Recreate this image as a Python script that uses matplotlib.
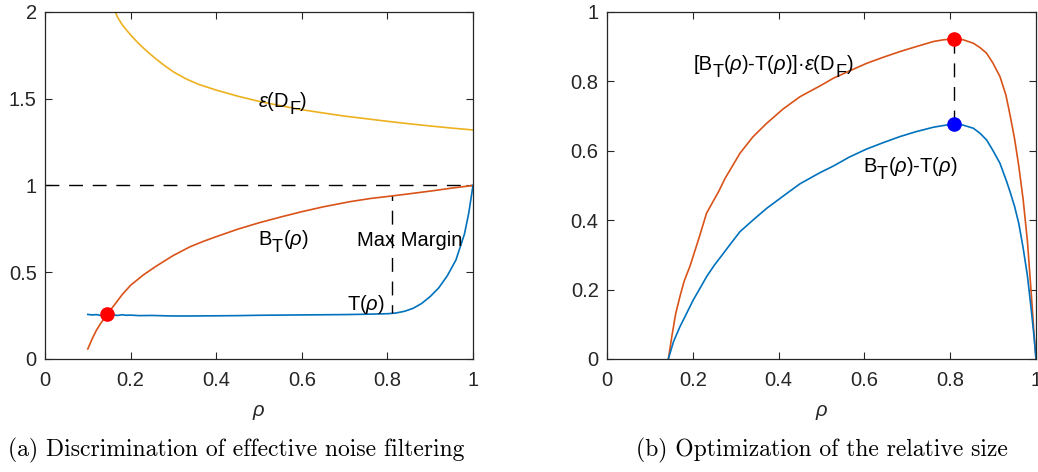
import matplotlib
matplotlib.use("Agg")
import matplotlib.pyplot as plt
import matplotlib.transforms as mtransforms

plt.rcParams['font.family'] = ['Liberation Sans', 'DejaVu Sans']
plt.rcParams['mathtext.fontset'] = 'custom'
plt.rcParams['mathtext.rm'] = 'Liberation Sans'
plt.rcParams['mathtext.it'] = 'Liberation Sans:italic'

BLUE = '#0072BD'
ORANGE = '#D95319'
YELLOW = '#EDB120'
AXC = '#262626'
FS = 14.5

# (a) left panel
eps_x = [0.164, 0.17, 0.18, 0.19, 0.2, 0.215, 0.23, 0.245, 0.26, 0.28, 0.3, 0.33, 0.36,
         0.4, 0.45, 0.5, 0.55, 0.6, 0.65, 0.7, 0.75, 0.8, 0.85, 0.9, 0.95, 1.0]
eps_y = [2.0, 1.968, 1.928, 1.897, 1.868, 1.828, 1.792, 1.759, 1.728, 1.69, 1.655, 1.614, 1.582,
         1.55, 1.515, 1.485, 1.46, 1.437, 1.418, 1.40, 1.385, 1.37, 1.356, 1.343, 1.331, 1.32]

bt_x = [0.1, 0.11, 0.12, 0.13, 0.1456, 0.16, 0.18, 0.2, 0.23, 0.261, 0.3, 0.339, 0.37,
        0.4, 0.45, 0.5, 0.55, 0.6, 0.65, 0.713, 0.76, 0.81, 0.86, 0.907, 0.95, 1.0]
bt_y = [0.058, 0.115, 0.165, 0.205, 0.259, 0.305, 0.37, 0.425, 0.485, 0.537, 0.597, 0.647, 0.678,
        0.705, 0.748, 0.785, 0.818, 0.849, 0.877, 0.907, 0.925, 0.9395, 0.955, 0.97, 0.985, 1.0]

t_x = [0.1, 0.11, 0.12, 0.13, 0.14, 0.15, 0.16, 0.17, 0.18, 0.19, 0.2, 0.22, 0.25, 0.28,
       0.3, 0.35, 0.4, 0.45, 0.5, 0.55, 0.6, 0.65, 0.7, 0.75, 0.8, 0.82, 0.84, 0.86,
       0.88, 0.9, 0.92, 0.94, 0.96, 0.98, 0.99, 1.0]
t_y = [0.257, 0.254, 0.256, 0.251, 0.255, 0.25, 0.254, 0.251, 0.255, 0.252, 0.253, 0.25,
       0.251, 0.249, 0.248, 0.248, 0.249, 0.25, 0.252, 0.253, 0.254, 0.255, 0.256, 0.258,
       0.261, 0.265, 0.275, 0.292, 0.32, 0.36, 0.41, 0.48, 0.57, 0.72, 0.84, 1.0]

cross_pt = (0.1456, 0.259)
margin_x = 0.81
margin_lo, margin_hi = 0.263, 0.9395

# (b) right panel
prod_x = [0.143, 0.151, 0.16, 0.17, 0.18, 0.193, 0.213, 0.232, 0.25, 0.26, 0.275, 0.287,
          0.31, 0.34, 0.372, 0.41, 0.45, 0.4965, 0.5275, 0.565, 0.605, 0.645, 0.683,
          0.72, 0.761, 0.785, 0.809, 0.83, 0.854, 0.87, 0.885, 0.9, 0.916, 0.93, 0.94,
          0.95, 0.96, 0.97, 0.98, 0.99, 0.995, 1.0]
prod_y = [0.0, 0.064, 0.13, 0.18, 0.225, 0.266, 0.343, 0.42, 0.46, 0.482, 0.52, 0.545,
          0.593, 0.64, 0.679, 0.72, 0.756, 0.787, 0.809, 0.83, 0.852, 0.87, 0.886,
          0.90, 0.915, 0.92, 0.922, 0.92, 0.91, 0.897, 0.881, 0.852, 0.814, 0.76, 0.70,
          0.635, 0.555, 0.46, 0.34, 0.17, 0.08, 0.0]

diff_x = [0.143, 0.155, 0.17, 0.185, 0.201, 0.215, 0.232, 0.25, 0.271, 0.29, 0.31, 0.34,
          0.372, 0.396, 0.42, 0.45, 0.4965, 0.5275, 0.565, 0.605, 0.645, 0.683, 0.72,
          0.761, 0.785, 0.809, 0.83, 0.854, 0.87, 0.885, 0.9, 0.916, 0.932, 0.94, 0.95,
          0.96, 0.97, 0.98, 0.99, 0.995, 1.0]
diff_y = [0.0, 0.05, 0.093, 0.13, 0.17, 0.2, 0.237, 0.27, 0.304, 0.335, 0.367, 0.40,
          0.434, 0.456, 0.478, 0.505, 0.537, 0.556, 0.582, 0.605, 0.624, 0.641, 0.655,
          0.668, 0.673, 0.677, 0.674, 0.665, 0.65, 0.631, 0.60, 0.564, 0.51, 0.48, 0.44,
          0.39, 0.32, 0.24, 0.13, 0.07, 0.0]

opt_x = 0.809
opt_prod, opt_diff = 0.922, 0.677


def style_axes(ax, ylim, yticks, yticklabels):
    ax.set_xlim(0, 1)
    ax.set_ylim(*ylim)
    ax.set_xticks([0, 0.2, 0.4, 0.6, 0.8, 1])
    ax.set_xticklabels(['0', '0.2', '0.4', '0.6', '0.8', '1'])
    ax.set_yticks(yticks)
    ax.set_yticklabels(yticklabels)
    ax.tick_params(direction='in', top=True, right=True, length=5, width=0.8,
                   colors=AXC, labelsize=FS)
    ax.tick_params(axis='x', pad=9)
    ax.tick_params(axis='y', pad=6)
    for s in ax.spines.values():
        s.set_color(AXC)
        s.set_linewidth(0.9)
    ax.set_xlabel(r'$\rho$', fontsize=FS, color=AXC, labelpad=9)


def rich_text(ax, x, y, parts):
    # parts: (text, is_subscript); subscripts drawn almost full size, dropped below baseline
    renderer = ax.figure.canvas.get_renderer()
    base = ax.transData
    for s, sub in parts:
        tr = mtransforms.offset_copy(base, fig=ax.figure, y=-7 if sub else 0, units='dots')
        txt = ax.text(x, y, s, transform=tr, fontsize=FS * (0.9 if sub else 1),
                      va='baseline', ha='left', color='k')
        w = txt.get_window_extent(renderer).width
        base = mtransforms.offset_copy(base, fig=ax.figure, x=w, units='dots')


fig = plt.figure(figsize=(10.38, 4.72), dpi=100)
ax1 = fig.add_axes([45 / 1038, 113 / 472, 428 / 1038, 347 / 472])
ax2 = fig.add_axes([607 / 1038, 113 / 472, 429 / 1038, 347 / 472])

dash = (0, (10, 7))

ax1.plot(eps_x, eps_y, color=YELLOW, lw=1.2)
ax1.plot([0, 1], [1, 1], color='k', lw=1.0, ls=dash)
ax1.plot(bt_x, bt_y, color=ORANGE, lw=1.2)
ax1.plot(t_x, t_y, color=BLUE, lw=1.2)
ax1.plot([margin_x, margin_x], [margin_lo, margin_hi], color='k', lw=1.0, ls=(4, (10, 7)))
ax1.plot(*cross_pt, 'o', color='red', markersize=9.5)
style_axes(ax1, (0, 2), [0, 0.5, 1, 1.5, 2], ['0', '0.5', '1', '1.5', '2'])
rich_text(ax1, 0.498, 1.454, [(r'$\epsilon$(D', False), ('F', True), (')', False)])
rich_text(ax1, 0.498, 0.657, [('B', False), ('T', True), (r'($\rho$)', False)])
ax1.text(0.73, 0.651, 'Max Margin', fontsize=FS, va='baseline')
rich_text(ax1, 0.705, 0.282, [(r'T($\rho$)', False)])

ax2.plot(prod_x, prod_y, color=ORANGE, lw=1.2)
ax2.plot(diff_x, diff_y, color=BLUE, lw=1.2)
ax2.plot([opt_x, opt_x], [opt_diff, opt_prod], color='k', lw=1.0, ls=dash)
ax2.plot(opt_x, opt_prod, 'o', color='red', markersize=9.5)
ax2.plot(opt_x, opt_diff, 'o', color='blue', markersize=9.5)
style_axes(ax2, (0, 1), [0, 0.2, 0.4, 0.6, 0.8, 1], ['0', '0.2', '0.4', '0.6', '0.8', '1'])
rich_text(ax2, 0.201, 0.833, [('[B', False), ('T', True),
                              (r'($\rho$)-T($\rho$)]·$\epsilon$(D', False), ('F', True), (')', False)])
rich_text(ax2, 0.598, 0.54, [('B', False), ('T', True), (r'($\rho$)-T($\rho$)', False)])

fig.text(236 / 1038, 22 / 472, '(a) Discrimination of effective noise filtering',
         family='cmr10', fontsize=17, ha='center', va='center')
fig.text(822 / 1038, 22 / 472, '(b) Optimization of the relative size',
         family='cmr10', fontsize=17, ha='center', va='center')

fig.savefig('out.png', dpi=100)
